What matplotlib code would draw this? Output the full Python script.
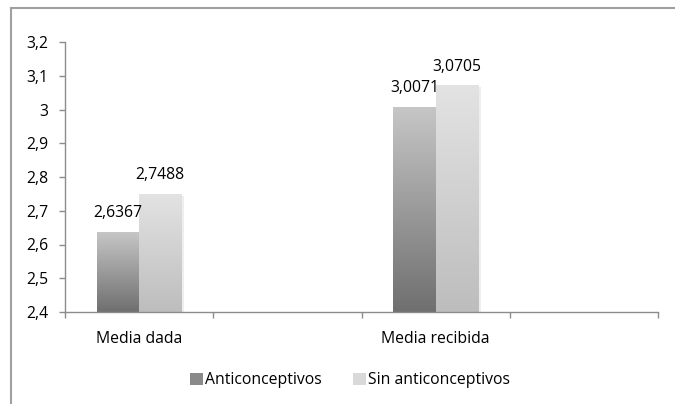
import numpy as np
import matplotlib.pyplot as plt
from matplotlib.lines import Line2D
from matplotlib.patches import Patch
from matplotlib.colors import LinearSegmentedColormap

plt.rcParams['font.family'] = ['Open Sans', 'DejaVu Sans']

# data
categorias = ['Media dada', '', 'Media recibida', '']
series = ['Anticonceptivos', 'Sin anticonceptivos']
anticonceptivos = [2.6367, np.nan, 3.0071, np.nan]
sin_anticonceptivos = [2.7488, np.nan, 3.0705, np.nan]
etiquetas_y = ['2,4', '2,5', '2,6', '2,7', '2,8', '2,9', '3', '3,1', '3,2']

# gradients bottom -> top
grad_ant = LinearSegmentedColormap.from_list('ant', ['#6f6f6f', '#c6c6c6'])
grad_sin = LinearSegmentedColormap.from_list('sin', ['#bdbdbd', '#e3e3e3'])

fs = 11.3

fig = plt.figure(figsize=(6.75, 4.04), dpi=100)
ax = fig.add_axes([65 / 675, 1 - 312 / 404, (658 - 65) / 675, (312 - 42) / 404])

ymin, ymax = 2.4, 3.2
x = np.arange(len(categorias))
w = 0.285

def grad_bars(xpos, vals, cmap, label):
    bars = ax.bar(xpos, np.array(vals) - ymin, w, bottom=ymin, color='none',
                  edgecolor='none', label=label)
    g = np.linspace(0, 1, 256).reshape(-1, 1)
    for b, v in zip(bars, vals):
        if np.isnan(v):
            continue
        x0 = b.get_x()
        # soft shadow on the right
        ax.add_patch(plt.Rectangle((x0 + w, ymin), 0.02, v - ymin - 0.004,
                                   color='#eeeeee', zorder=1, lw=0))
        ax.imshow(g, cmap=cmap, origin='lower', aspect='auto',
                  extent=(x0, x0 + w, ymin, v), zorder=2)
        ax.text(x0 + w / 2, v + 0.032, f'{v:.4f}'.replace('.', ','),
                ha='center', va='bottom', fontsize=fs, zorder=3)
    return bars

grad_bars(x - w / 2, anticonceptivos, grad_ant, series[0])
grad_bars(x + w / 2, sin_anticonceptivos, grad_sin, series[1])

ax.set_xlim(-0.5, len(categorias) - 0.5)
ax.set_ylim(ymin, ymax)
ax.set_yticks(np.arange(2.4, 3.25, 0.1))
ax.set_yticklabels(etiquetas_y)
ax.set_xticks(np.arange(-0.5, len(categorias), 1.0))
ax.set_xticklabels([])
ax.set_xticks(x, minor=True)
ax.set_xticklabels(categorias, minor=True)
ax.tick_params(axis='x', which='minor', length=0, pad=14, labelsize=fs)
ax.tick_params(axis='x', which='major', length=4, color='#8c8c8c', width=1)
ax.tick_params(axis='y', length=4, color='#8c8c8c', width=1, labelsize=fs, pad=8)
for s in ['top', 'right']:
    ax.spines[s].set_visible(False)
for s in ['left', 'bottom']:
    ax.spines[s].set_color('#8c8c8c')
    ax.spines[s].set_linewidth(1)

handles = [Patch(facecolor='#8a8a8a', edgecolor='none'),
           Patch(facecolor='#d9d9d9', edgecolor='none')]
fig.legend(handles, series, loc='center', bbox_to_anchor=(350 / 675, 1 - 380 / 404),
           ncol=2, frameon=False, fontsize=fs, handlelength=0.8, handleheight=0.8,
           handletextpad=0.15, columnspacing=2.0)

# outer chart frame
fy = 1 - 8 / 404
fx = 11 / 675
fig.add_artist(Line2D([fx, fx], [0, fy], color='#a0a0a0', lw=1.5))
fig.add_artist(Line2D([fx, 1], [fy, fy], color='#a0a0a0', lw=1.5))

plt.savefig('out.png', dpi=100)
